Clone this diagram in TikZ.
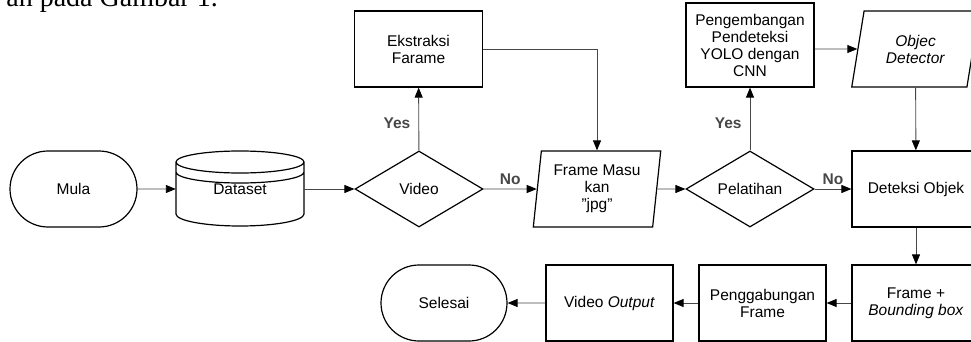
\documentclass[tikz,border=0pt]{standalone}
\usepackage{fontspec}
\setmainfont{Liberation Sans}
\newfontfamily\leadserif{Liberation Serif}
\usetikzlibrary{shapes.geometric,shapes.misc,arrows.meta}
\colorlet{lnx}{black!72}

\begin{document}
\begin{tikzpicture}[x=1pt,y=-1pt,
        every node/.style={font=\fontsize{15.5}{17}\selectfont,align=center,inner sep=0pt},
        box/.style={draw,line width=1.2pt,minimum width=128pt,minimum height=76pt},
        term/.style={draw,line width=1.2pt,rounded rectangle,minimum width=127pt,minimum height=76pt},
        decide/.style={draw,line width=1.2pt,diamond,minimum width=128pt,minimum height=76pt},
        io/.style={draw,line width=1.2pt,trapezium,trapezium stretches=true,minimum width=128pt,minimum height=76pt},
        link/.style={lnx,line width=0.9pt,-{Triangle[length=10pt,width=8pt,black]}},
        ans/.style={font=\fontsize{15.5}{17}\selectfont\bfseries}
    ]
        \useasboundingbox (0,0) rectangle (971,342);
        \clip (0,0) rectangle (971,342);

        \node [font=\leadserif\fontsize{28}{30}\selectfont,anchor=base east] (lead) at (218,7) {an pada Gambar 1.};

        % top row
        \node [term] (mula) at (73.5,189) {Mula};
        \node [minimum width=128pt,minimum height=76pt] (data) at (240,189) {Dataset};
        \node [decide] (vid) at (419,189) {Video};
        \node [io,trapezium left angle=82.5,trapezium right angle=97.5] (frm) at (597,189) {Frame Masu\\kan\\"jpg"};
        \node [decide] (pel) at (750,189) {Pelatihan};
        \node [box] (det) at (916,189) {Deteksi Objek};

        % cylinder round the dataset label
        \draw [line width=1.2pt]
            (176,162) -- (176,214) arc[start angle=180,end angle=360,x radius=64pt,y radius=12pt] -- (304,162)
            (240,162) ellipse[x radius=64pt,y radius=11pt]
            (176,172) arc[start angle=180,end angle=360,x radius=64pt,y radius=11pt]
        ;

        % branches above
        \node [box] (eks) at (418.5,49) {Ekstraksi\\Farame};
        \node [box,minimum height=84pt] (peng) at (750,45) {Pengembangan\\Pendeteksi\\YOLO dengan\\CNN};
        \node [io,trapezium left angle=76,trapezium right angle=104] (obj) at (915.5,49) {\textit{Objec}\\\textit{Detector}};

        % bottom row
        \node [box] (fb) at (916,303) {Frame +\\\textit{Bounding box}};
        \node [box,minimum width=127pt] (pgb) at (762.5,303) {Penggabungan\\Frame};
        \node [box,minimum width=127pt] (vo) at (609.5,303) {Video \textit{Output}};
        \node [term,minimum width=126pt] (sel) at (444,303) {Selesai};

        \draw [link] (mula) -- (data);
        \draw [link] (data) -- (vid);
        \draw [link] (vid) -- node [ans,above=4pt] {No} (frm);
        \draw [link] (vid) -- node [ans,pos=0.43,left=8pt] {Yes} (eks);
        \draw [link] (eks) -| (frm);
        \draw [link] (frm) -- (pel);
        \draw [link] (pel) -- node [ans,pos=0.43,left=8pt] {Yes} (peng);
        \draw [link] (pel) -- node [ans,above=4pt] {No} (det);
        \draw [link] (peng.east |- obj) -- (obj);
        \draw [link] (obj) -- (det);
        \draw [link] (det) -- (fb);
        \draw [link] (fb) -- (pgb);
        \draw [link] (pgb) -- (vo);
        \draw [link] (vo) -- (sel);
    \end{tikzpicture}
\end{document}
